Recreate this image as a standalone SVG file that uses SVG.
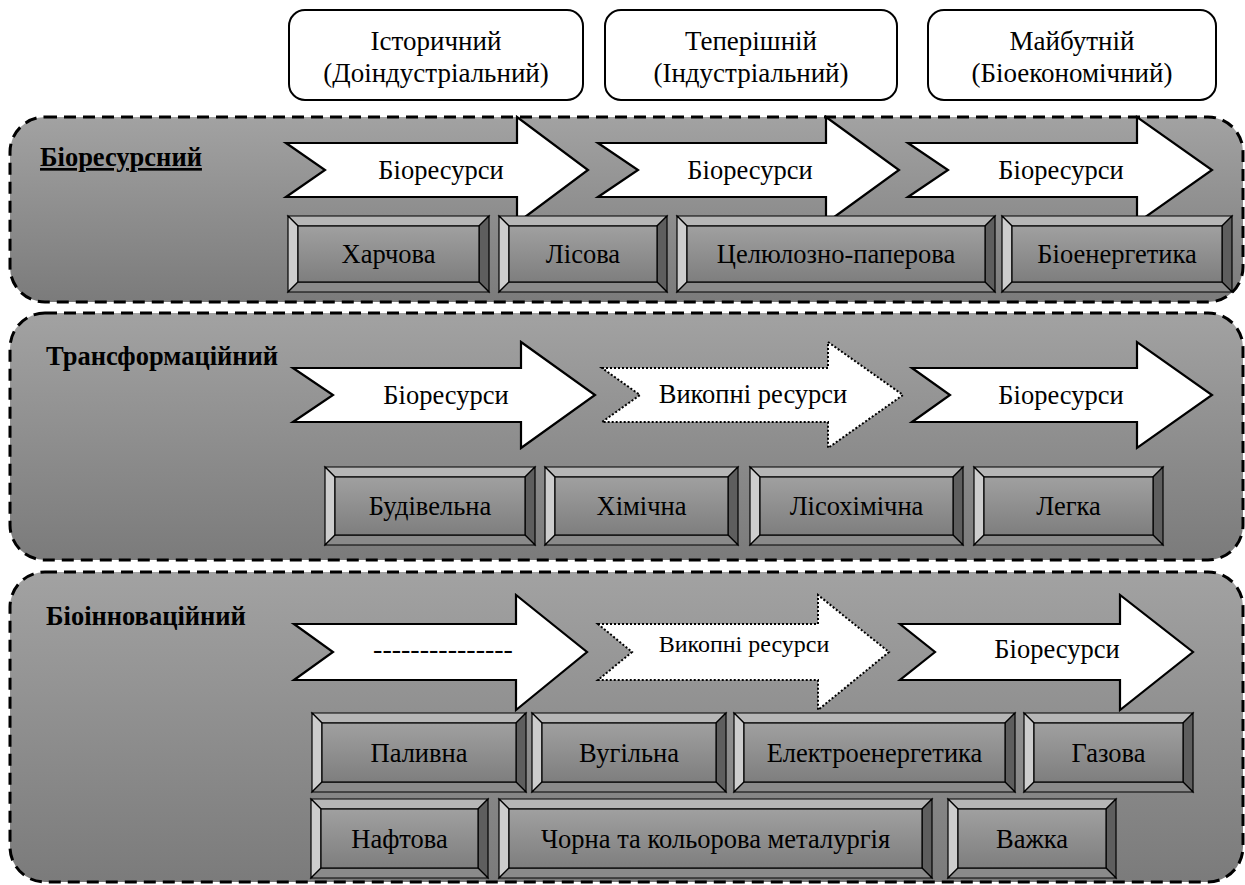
<svg xmlns="http://www.w3.org/2000/svg" width="1245" height="885" viewBox="0 0 1245 885">
<defs>
<linearGradient id="gPanel" x1="0" y1="0" x2="0" y2="1"><stop offset="0" stop-color="#a2a2a2"/><stop offset="1" stop-color="#7b7b7b"/></linearGradient>
<linearGradient id="gFace" x1="0" y1="0" x2="0" y2="1"><stop offset="0" stop-color="#a0a0a0"/><stop offset="1" stop-color="#7e7e7e"/></linearGradient>
</defs>
<style>
text{font-family:"Liberation Serif","Times New Roman",serif;fill:#000}
.t{font-size:26.5px;text-anchor:middle}
.h{font-size:27px;text-anchor:middle}
.lbl{font-size:26.5px;font-weight:bold}
.panel{fill:url(#gPanel);stroke:#000;stroke-width:3;stroke-dasharray:12 7}
.top{fill:#fff;stroke:#000;stroke-width:2}
.arr{fill:#fff;stroke:#000;stroke-width:2.2;stroke-linejoin:miter}
.dot{fill:#fff;stroke:#000;stroke-width:2;stroke-dasharray:2 2}
.bt{fill:#b6b6b6;stroke:#000;stroke-width:1.2}
.bl{fill:#cdcdcd;stroke:#000;stroke-width:1.2}
.br{fill:#5e5e5e;stroke:#000;stroke-width:1.2}
.bb{fill:#8a8a8a;stroke:#000;stroke-width:1.2}
.bf{fill:url(#gFace);stroke:#000;stroke-width:1.2}
</style>
<rect width="1245" height="885" fill="#fff"/>

<g id="era1"><rect class="top" x="289" y="10" width="294" height="90" rx="16"/><text class="h" x="436" y="50">Історичний</text><text class="h" x="436" y="82">(Доіндустріальний)</text></g>
<g id="era2"><rect class="top" x="605" y="10" width="292" height="90" rx="16"/><text class="h" x="751" y="50">Теперішній</text><text class="h" x="751" y="82">(Індустріальний)</text></g>
<g id="era3"><rect class="top" x="928" y="10" width="288" height="90" rx="16"/><text class="h" x="1072" y="50">Майбутній</text><text class="h" x="1072" y="82">(Біоекономічний)</text></g>

<g id="panel1"><rect class="panel" x="10" y="117" width="1233" height="185" rx="35"/><text class="lbl" x="40" y="166" text-decoration="underline">Біоресурсний</text></g>
<g id="panel2"><rect class="panel" x="10" y="313" width="1233" height="247" rx="35"/><text class="lbl" x="46" y="365">Трансформаційний</text></g>
<g id="panel3"><rect class="panel" x="10" y="572" width="1233" height="310" rx="35"/><text class="lbl" x="46" y="625">Біоінноваційний</text></g>

<g id="connectors">
<g id="r1a1"><path class="arr" d="M286,143 L517,143 L517,117 L588,170 L517,223 L517,197 L286,197 L325,170 Z"/><text class="t" x="441" y="179">Біоресурси</text></g>
<g id="r1a2"><path class="arr" d="M598,143 L826,143 L826,117 L899,170 L826,223 L826,197 L598,197 L638,170 Z"/><text class="t" x="750" y="179">Біоресурси</text></g>
<g id="r1a3"><path class="arr" d="M908,143 L1137,143 L1137,117 L1212,170 L1137,223 L1137,197 L908,197 L948,170 Z"/><text class="t" x="1061" y="179">Біоресурси</text></g>

<g id="r2a1"><path class="arr" d="M293,368 L521,368 L521,342 L595,395 L521,448 L521,422 L293,422 L333,395 Z"/><text class="t" x="446" y="404">Біоресурси</text></g>
<g id="r2a2"><path class="dot" d="M602,368 L828,368 L828,342 L903,395 L828,448 L828,422 L602,422 L640,395 Z"/><text class="t" x="753" y="403">Викопні ресурси</text></g>
<g id="r2a3"><path class="arr" d="M912,368 L1137,368 L1137,342 L1212,395 L1137,448 L1137,422 L912,422 L950,395 Z"/><text class="t" x="1061" y="404">Біоресурси</text></g>

<g id="r3a1"><path class="arr" d="M294,624 L516,624 L516,595 L587,652 L516,710 L516,680 L294,680 L333,652 Z"/><text class="t" x="443" y="658" style="font-size:28px">---------------</text></g>
<g id="r3a2"><path class="dot" d="M598,624 L818,624 L818,595 L889,652 L818,710 L818,680 L598,680 L632,652 Z"/><text class="t" x="744" y="652" style="font-size:24px">Викопні ресурси</text></g>
<g id="r3a3"><path class="arr" d="M900,624 L1120,624 L1120,595 L1193,652 L1120,710 L1120,680 L900,680 L935,652 Z"/><text class="t" x="1057" y="658">Біоресурси</text></g>
</g>

<g id="b-kharchova" transform="translate(288,216)"><polygon class="bt" points="0,0 201,0 191,10 10,10"/><polygon class="bl" points="0,0 10,10 10,66 0,76"/><polygon class="br" points="201,0 201,76 191,66 191,10"/><polygon class="bb" points="0,76 10,66 191,66 201,76"/><rect class="bf" x="10" y="10" width="181" height="56"/><text class="t" x="100.5" y="47">Харчова</text></g>
<g id="b-lisova" transform="translate(499,216)"><polygon class="bt" points="0,0 168,0 158,10 10,10"/><polygon class="bl" points="0,0 10,10 10,66 0,76"/><polygon class="br" points="168,0 168,76 158,66 158,10"/><polygon class="bb" points="0,76 10,66 158,66 168,76"/><rect class="bf" x="10" y="10" width="148" height="56"/><text class="t" x="84" y="47">Лісова</text></g>
<g id="b-tselyul" transform="translate(677,216)"><polygon class="bt" points="0,0 318,0 308,10 10,10"/><polygon class="bl" points="0,0 10,10 10,66 0,76"/><polygon class="br" points="318,0 318,76 308,66 308,10"/><polygon class="bb" points="0,76 10,66 308,66 318,76"/><rect class="bf" x="10" y="10" width="298" height="56"/><text class="t" x="159" y="47">Целюлозно-паперова</text></g>
<g id="b-bioen" transform="translate(1002,216)"><polygon class="bt" points="0,0 230,0 220,10 10,10"/><polygon class="bl" points="0,0 10,10 10,66 0,76"/><polygon class="br" points="230,0 230,76 220,66 220,10"/><polygon class="bb" points="0,76 10,66 220,66 230,76"/><rect class="bf" x="10" y="10" width="210" height="56"/><text class="t" x="115" y="47">Біоенергетика</text></g>

<g id="b-budiv" transform="translate(325,467)"><polygon class="bt" points="0,0 210,0 200,10 10,10"/><polygon class="bl" points="0,0 10,10 10,68 0,78"/><polygon class="br" points="210,0 210,78 200,68 200,10"/><polygon class="bb" points="0,78 10,68 200,68 210,78"/><rect class="bf" x="10" y="10" width="190" height="58"/><text class="t" x="105" y="48">Будівельна</text></g>
<g id="b-khim" transform="translate(545,467)"><polygon class="bt" points="0,0 193,0 183,10 10,10"/><polygon class="bl" points="0,0 10,10 10,68 0,78"/><polygon class="br" points="193,0 193,78 183,68 183,10"/><polygon class="bb" points="0,78 10,68 183,68 193,78"/><rect class="bf" x="10" y="10" width="173" height="58"/><text class="t" x="96.5" y="48">Хімічна</text></g>
<g id="b-lisokhim" transform="translate(750,467)"><polygon class="bt" points="0,0 213,0 203,10 10,10"/><polygon class="bl" points="0,0 10,10 10,68 0,78"/><polygon class="br" points="213,0 213,78 203,68 203,10"/><polygon class="bb" points="0,78 10,68 203,68 213,78"/><rect class="bf" x="10" y="10" width="193" height="58"/><text class="t" x="106.5" y="48">Лісохімічна</text></g>
<g id="b-legka" transform="translate(974,467)"><polygon class="bt" points="0,0 189,0 179,10 10,10"/><polygon class="bl" points="0,0 10,10 10,68 0,78"/><polygon class="br" points="189,0 189,78 179,68 179,10"/><polygon class="bb" points="0,78 10,68 179,68 189,78"/><rect class="bf" x="10" y="10" width="169" height="58"/><text class="t" x="94.5" y="48">Легка</text></g>

<g id="b-palyvna" transform="translate(312,713)"><polygon class="bt" points="0,0 214,0 204,10 10,10"/><polygon class="bl" points="0,0 10,10 10,69 0,79"/><polygon class="br" points="214,0 214,79 204,69 204,10"/><polygon class="bb" points="0,79 10,69 204,69 214,79"/><rect class="bf" x="10" y="10" width="194" height="59"/><text class="t" x="107" y="49">Паливна</text></g>
<g id="b-vuhilna" transform="translate(532,713)"><polygon class="bt" points="0,0 194,0 184,10 10,10"/><polygon class="bl" points="0,0 10,10 10,69 0,79"/><polygon class="br" points="194,0 194,79 184,69 184,10"/><polygon class="bb" points="0,79 10,69 184,69 194,79"/><rect class="bf" x="10" y="10" width="174" height="59"/><text class="t" x="97" y="49">Вугільна</text></g>
<g id="b-elektro" transform="translate(734,713)"><polygon class="bt" points="0,0 281,0 271,10 10,10"/><polygon class="bl" points="0,0 10,10 10,69 0,79"/><polygon class="br" points="281,0 281,79 271,69 271,10"/><polygon class="bb" points="0,79 10,69 271,69 281,79"/><rect class="bf" x="10" y="10" width="261" height="59"/><text class="t" x="140.5" y="49">Електроенергетика</text></g>
<g id="b-hazova" transform="translate(1024,713)"><polygon class="bt" points="0,0 169,0 159,10 10,10"/><polygon class="bl" points="0,0 10,10 10,69 0,79"/><polygon class="br" points="169,0 169,79 159,69 159,10"/><polygon class="bb" points="0,79 10,69 159,69 169,79"/><rect class="bf" x="10" y="10" width="149" height="59"/><text class="t" x="84.5" y="49">Газова</text></g>

<g id="b-naftova" transform="translate(311,799)"><polygon class="bt" points="0,0 177,0 167,10 10,10"/><polygon class="bl" points="0,0 10,10 10,69 0,79"/><polygon class="br" points="177,0 177,79 167,69 167,10"/><polygon class="bb" points="0,79 10,69 167,69 177,79"/><rect class="bf" x="10" y="10" width="157" height="59"/><text class="t" x="88.5" y="49">Нафтова</text></g>
<g id="b-metal" transform="translate(499,799)"><polygon class="bt" points="0,0 433,0 423,10 10,10"/><polygon class="bl" points="0,0 10,10 10,69 0,79"/><polygon class="br" points="433,0 433,79 423,69 423,10"/><polygon class="bb" points="0,79 10,69 423,69 433,79"/><rect class="bf" x="10" y="10" width="413" height="59"/><text class="t" x="216.5" y="49">Чорна та кольорова металургія</text></g>
<g id="b-vazhka" transform="translate(948,799)"><polygon class="bt" points="0,0 168,0 158,10 10,10"/><polygon class="bl" points="0,0 10,10 10,69 0,79"/><polygon class="br" points="168,0 168,79 158,69 158,10"/><polygon class="bb" points="0,79 10,69 158,69 168,79"/><rect class="bf" x="10" y="10" width="148" height="59"/><text class="t" x="84" y="49">Важка</text></g>
</svg>
